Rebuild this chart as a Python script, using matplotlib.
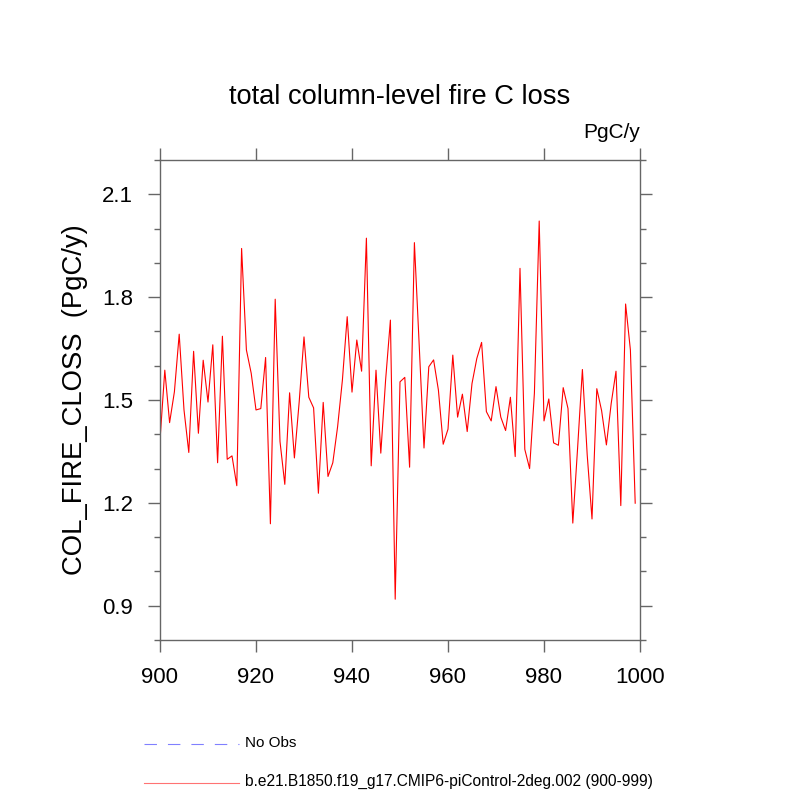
import numpy as np
import matplotlib
matplotlib.use("Agg")
import matplotlib.pyplot as plt
from matplotlib.lines import Line2D
from matplotlib.ticker import MultipleLocator

plt.rcParams['font.family'] = ['Liberation Sans', 'DejaVu Sans']

# Annual total column-level fire C loss (PgC/y), years 900-999
years = np.arange(900, 1000)
closs = [
    1.383, 1.587, 1.434, 1.524, 1.692, 1.471, 1.347, 1.642, 1.403, 1.616,
    1.494, 1.661, 1.317, 1.686, 1.327, 1.337, 1.250, 1.942, 1.646, 1.578,
    1.471, 1.475, 1.624, 1.139, 1.794, 1.379, 1.254, 1.521, 1.331, 1.495,
    1.684, 1.508, 1.477, 1.228, 1.493, 1.277, 1.317, 1.422, 1.558, 1.743,
    1.523, 1.675, 1.584, 1.972, 1.308, 1.587, 1.345, 1.558, 1.733, 0.919,
    1.553, 1.566, 1.304, 1.959, 1.660, 1.360, 1.597, 1.617, 1.529, 1.371,
    1.415, 1.631, 1.450, 1.517, 1.408, 1.548, 1.621, 1.668, 1.466, 1.439,
    1.539, 1.450, 1.411, 1.508, 1.335, 1.884, 1.356, 1.300, 1.520, 2.022,
    1.439, 1.503, 1.375, 1.368, 1.536, 1.475, 1.141, 1.360, 1.589, 1.340,
    1.153, 1.533, 1.469, 1.369, 1.490, 1.584, 1.192, 1.780, 1.646, 1.199,
]

case_name = "b.e21.B1850.f19_g17.CMIP6-piControl-2deg.002 (900-999)"
axis_gray = "#666666"

fig = plt.figure(figsize=(8, 8), dpi=100)
ax = fig.add_axes([0.2, 0.2, 0.6, 0.6])

ax.plot(years, closs, color="red", linewidth=0.8)

ax.set_xlim(900, 1000)
ax.set_ylim(0.8, 2.2)
ax.set_xticks([900, 920, 940, 960, 980, 1000])
ax.set_yticks([0.9, 1.2, 1.5, 1.8, 2.1])
ax.yaxis.set_minor_locator(MultipleLocator(0.1))

for side in ax.spines.values():
    side.set_color(axis_gray)
    side.set_linewidth(1.0)

ax.tick_params(axis="both", which="major", direction="out", length=8.5,
               width=1.0, color=axis_gray, labelsize=16, pad=11)
ax.tick_params(axis="y", which="minor", direction="out", length=4.5,
               width=1.0, color=axis_gray)
ax.tick_params(top=True, right=True, which="both")
ax.tick_params(axis="x", which="minor", bottom=False, top=False)

ax.set_ylabel("COL_FIRE_CLOSS  (PgC/y)", fontsize=19.8)
ax.yaxis.set_label_coords(-0.15, 0.5)
fig.text(0.5, 0.879, "total column-level fire C loss", fontsize=19.6,
         ha="center", va="center")
fig.text(0.8, 0.834, "PgC/y", fontsize=15, ha="right", va="center")

# legend below the plot
fig.add_artist(Line2D([0.18, 0.299], [0.070, 0.070], color="#8080ff",
                      linewidth=0.8, dashes=(11.2, 9.9)))
fig.text(0.306, 0.071, "No Obs", fontsize=11, va="center")
fig.add_artist(Line2D([0.18, 0.299], [0.021, 0.021], color="red",
                      alpha=0.55, linewidth=0.8))
fig.text(0.306, 0.023, case_name, fontsize=11.2, va="center")

fig.savefig("out.png", dpi=100)
